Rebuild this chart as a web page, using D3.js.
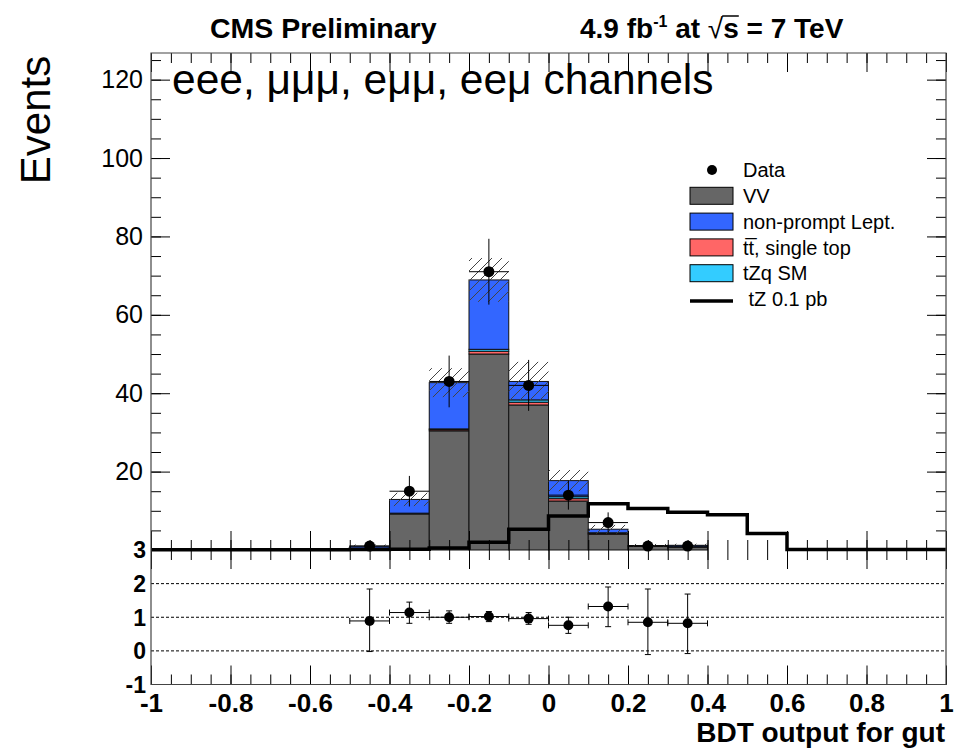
<!DOCTYPE html>
<html>
<head>
<meta charset="utf-8">
<script src="https://cdn.jsdelivr.net/npm/d3@7"></script>
<style>
  body { margin: 0; background: #fff; }
  text { font-family: "Liberation Sans", Arial, Helvetica, sans-serif; fill: #000; }
</style>
</head>
<body>
<svg id="chart" width="954" height="749"></svg>
<script>
/* CONSTANTS AND GLOBALS */
const width = 954,
  height = 749;

// panel edges in pixels
const plotLeft = 151, plotRight = 946;
const mainTop = 53, mainBottom = 550;
const ratioTop = 550, ratioBottom = 684.5;

/////////////
/// DATA ///
////////////

// bin centres of the BDT histogram (bin width 0.1)
const binCenters = [-0.95, -0.85, -0.75, -0.65, -0.55, -0.45, -0.35, -0.25, -0.15, -0.05,
                    0.05, 0.15, 0.25, 0.35, 0.45, 0.55, 0.65, 0.75, 0.85, 0.95];
const binHalf = 0.05;

// stacked backgrounds, bottom to top
const vv        = [0, 0, 0, 0, 0, 0.5, 9.2, 30.4, 50.0, 37.0, 12.5, 4.0, 1.0, 0.7, 0, 0, 0, 0, 0, 0];
const ttbar     = [0, 0, 0, 0, 0, 0.0, 0.1, 0.3, 0.7, 0.7, 0.6, 0.2, 0.05, 0.05, 0, 0, 0, 0, 0, 0];
const tzqSM     = [0, 0, 0, 0, 0, 0.0, 0.1, 0.2, 0.5, 0.6, 0.5, 0.2, 0.0, 0.05, 0, 0, 0, 0, 0, 0];
const nonPrompt = [0, 0, 0, 0, 0, 0.5, 3.5, 11.8, 17.7, 4.7, 4.1, 0.9, 0.1, 0.4, 0, 0, 0, 0, 0, 0];
// uncertainty on the total background (hatched band)
const mcErr     = [0, 0, 0, 0, 0, 0.4, 1.7, 3.7, 5.6, 5.0, 2.7, 1.1, 0.4, 0.4, 0, 0, 0, 0, 0, 0];

// tZ 0.1 pb signal (open black histogram)
const tzSignal  = [0.05, 0.05, 0.05, 0.05, 0.05, 0.1, 0.2, 0.5, 2.0, 5.3, 8.7, 11.8, 10.6, 9.6, 9.0, 4.2, 0.1, 0.1, 0.1, 0.1];

// observed data
const dataX   = [-0.45, -0.35, -0.25, -0.15, -0.05, 0.05, 0.15, 0.25, 0.35];
const dataY   = [1, 15, 43, 71, 42, 14, 7, 1, 1];
const dataErr = [1, 3.9, 6.6, 8.4, 6.5, 3.7, 2.6, 1, 1];

// data / MC ratio
const ratioY    = [0.89, 1.14, 1.0, 1.02, 0.96, 0.76, 1.32, 0.85, 0.82];
const ratioUp   = [1.84, 1.45, 1.19, 1.17, 1.14, 1.0, 1.9, 1.84, 1.69];
const ratioDown = [-0.02, 0.82, 0.82, 0.87, 0.79, 0.52, 0.72, -0.11, -0.08];

// ticks
const xTicks = [-1, -0.8, -0.6, -0.4, -0.2, 0, 0.2, 0.4, 0.6, 0.8, 1];
const xTickLabels = ["-1", "-0.8", "-0.6", "-0.4", "-0.2", "0", "0.2", "0.4", "0.6", "0.8", "1"];
const yTicks = [20, 40, 60, 80, 100, 120];
const ratioTicks = [3, 2, 1, 0, -1];
const ratioTickLabels = ["3", "2", "1", "0", "-1"];
const ratioLines = [0, 1, 2];

// legend
const legendLabels = ["Data", "VV", "non-prompt Lept.", "tt\u0305, single top", "tZq SM", " tZ 0.1 pb"];
const legendKinds  = ["point", "box", "box", "box", "box", "line"];
const legendColors = ["#000", "#666666", "#3366ff", "#ff6666", "#33ccff", "#000"];

const colors = { vv: "#666666", ttbar: "#ff6666", tzq: "#33ccff", np: "#3366ff" };

////////////////
/// SCALES ////
///////////////

const x = d3.scaleLinear().domain([-1, 1]).range([plotLeft, plotRight]);
const y = d3.scaleLinear().domain([0, 126.8]).range([mainBottom, mainTop]);
const yr = d3.scaleLinear().domain([-1, 3]).range([ratioBottom, ratioTop]);

const svg = d3.select("#chart");

// hatch pattern for the MC uncertainty
svg.append("defs").append("pattern")
  .attr("id", "hatch")
  .attr("patternUnits", "userSpaceOnUse")
  .attr("width", 10).attr("height", 10)
  .append("path")
  .attr("d", "M0,10 L10,0 M-2,2 L2,-2 M8,12 L12,8")
  .attr("stroke", "#444")
  .attr("stroke-width", 1);

//////////////////
/// MAIN STACK ///
//////////////////

// build the stack layers bin by bin
const layers = [
  { key: "vv", vals: vv, color: colors.vv },
  { key: "ttbar", vals: ttbar, color: colors.ttbar },
  { key: "tzq", vals: tzqSM, color: colors.tzq },
  { key: "np", vals: nonPrompt, color: colors.np }
];

const stackRects = [];
binCenters.forEach((c, i) => {
  let base = 0;
  layers.forEach(l => {
    const v = l.vals[i];
    if (v > 0) stackRects.push({ c: c, y0: base, y1: base + v, color: l.color });
    base += v;
  });
});

const totals = binCenters.map((c, i) => vv[i] + ttbar[i] + tzqSM[i] + nonPrompt[i]);

const gMain = svg.append("g");

gMain.selectAll("rect.stack")
  .data(stackRects)
  .enter()
  .append("rect")
  .attr("class", "stack")
  .attr("x", d => x(d.c - binHalf))
  .attr("width", d => x(d.c + binHalf) - x(d.c - binHalf))
  .attr("y", d => y(d.y1))
  .attr("height", d => y(d.y0) - y(d.y1))
  .attr("fill", d => d.color)
  .attr("stroke", "#111")
  .attr("stroke-width", 1);

// hatched uncertainty band
gMain.selectAll("rect.band")
  .data(binCenters.map((c, i) => ({ c: c, t: totals[i], e: mcErr[i] })).filter(d => d.e > 0))
  .enter()
  .append("rect")
  .attr("class", "band")
  .attr("x", d => x(d.c - binHalf))
  .attr("width", d => x(d.c + binHalf) - x(d.c - binHalf))
  .attr("y", d => y(d.t + d.e))
  .attr("height", d => y(Math.max(0, d.t - d.e)) - y(d.t + d.e))
  .attr("fill", "url(#hatch)");

// tZ signal step line
const stepPts = binCenters.map((c, i) => [c - binHalf, tzSignal[i]]);
stepPts.push([binCenters[binCenters.length - 1] + binHalf, tzSignal[tzSignal.length - 1]]);

gMain.append("path")
  .attr("d", d3.line().x(d => x(d[0])).y(d => y(d[1])).curve(d3.curveStepAfter)(stepPts))
  .attr("fill", "none")
  .attr("stroke", "#000")
  .attr("stroke-width", 3.5);

// data points
const dataPts = dataX.map((v, i) => ({ x: v, y: dataY[i], e: dataErr[i] }));

const gData = gMain.selectAll("g.data")
  .data(dataPts)
  .enter()
  .append("g")
  .attr("class", "data");

gData.append("line")
  .attr("x1", d => x(d.x)).attr("x2", d => x(d.x))
  .attr("y1", d => y(d.y + d.e)).attr("y2", d => y(Math.max(0, d.y - d.e)))
  .attr("stroke", "#000").attr("stroke-width", 1);
gData.append("line")
  .attr("x1", d => x(d.x - binHalf)).attr("x2", d => x(d.x + binHalf))
  .attr("y1", d => y(d.y)).attr("y2", d => y(d.y))
  .attr("stroke", "#000").attr("stroke-width", 1);
gData.append("circle")
  .attr("cx", d => x(d.x)).attr("cy", d => y(d.y))
  .attr("r", 5.5).attr("fill", "#000");

///////////////////
/// RATIO PANEL ///
///////////////////

const gRatio = svg.append("g");

gRatio.selectAll("line.ref")
  .data(ratioLines)
  .enter()
  .append("line")
  .attr("x1", plotLeft).attr("x2", plotRight)
  .attr("y1", d => yr(d)).attr("y2", d => yr(d))
  .attr("stroke", "#000").attr("stroke-width", 1)
  .attr("stroke-dasharray", "3,2");

const ratioPts = dataX.map((v, i) => ({ x: v, y: ratioY[i], up: ratioUp[i], dn: ratioDown[i] }));
const gR = gRatio.selectAll("g.rpt")
  .data(ratioPts)
  .enter()
  .append("g")
  .attr("class", "rpt");

const cap = 3;
gR.append("line")
  .attr("x1", d => x(d.x)).attr("x2", d => x(d.x))
  .attr("y1", d => yr(d.up)).attr("y2", d => yr(d.dn))
  .attr("stroke", "#000").attr("stroke-width", 1);
gR.append("line")
  .attr("x1", d => x(d.x - binHalf)).attr("x2", d => x(d.x + binHalf))
  .attr("y1", d => yr(d.y)).attr("y2", d => yr(d.y))
  .attr("stroke", "#000").attr("stroke-width", 1);
// error bar end caps
gR.append("path")
  .attr("d", d => {
    const cx = x(d.x), cy = yr(d.y);
    const xl = x(d.x - binHalf), xh = x(d.x + binHalf);
    return `M${cx - cap},${yr(d.up)}H${cx + cap}M${cx - cap},${yr(d.dn)}H${cx + cap}` +
           `M${xl},${cy - cap}V${cy + cap}M${xh},${cy - cap}V${cy + cap}`;
  })
  .attr("stroke", "#000").attr("stroke-width", 1).attr("fill", "none");
gR.append("circle")
  .attr("cx", d => x(d.x)).attr("cy", d => yr(d.y))
  .attr("r", 5).attr("fill", "#000");

//////////////
/// AXES ////
/////////////

function tickAxis(axis, tx, ty) {
  const g = svg.append("g").attr("transform", `translate(${tx},${ty})`).call(axis);
  g.select(".domain").remove();
  g.selectAll("line").attr("stroke", "#000");
  return g;
}

// main x ticks: bottom (pointing up) and top (pointing down)
tickAxis(d3.axisTop(x).tickValues(xTicks).tickSize(19).tickFormat(""), 0, mainBottom);
tickAxis(d3.axisTop(x).ticks(40).tickSize(10).tickFormat(""), 0, mainBottom);
tickAxis(d3.axisBottom(x).tickValues(xTicks).tickSize(19).tickFormat(""), 0, mainTop);
tickAxis(d3.axisBottom(x).ticks(40).tickSize(10).tickFormat(""), 0, mainTop);

// main y ticks left (with labels) and right
const yAxisG = tickAxis(d3.axisLeft(y).tickValues(yTicks).tickSizeInner(-19).tickSizeOuter(0).tickPadding(8), plotLeft, 0);
yAxisG.selectAll("text").attr("font-size", 25).attr("font-family", "Liberation Sans, Arial, sans-serif");
tickAxis(d3.axisLeft(y).ticks(25).tickSizeInner(-10).tickSizeOuter(0).tickFormat(""), plotLeft, 0);
tickAxis(d3.axisLeft(y).tickValues(yTicks).tickSize(19).tickFormat(""), plotRight, 0);
tickAxis(d3.axisLeft(y).ticks(25).tickSize(10).tickFormat(""), plotRight, 0);

// ratio x ticks: top (down) and bottom (up, with labels)
tickAxis(d3.axisBottom(x).tickValues(xTicks).tickSize(19).tickFormat(""), 0, ratioTop);
tickAxis(d3.axisBottom(x).ticks(40).tickSize(10).tickFormat(""), 0, ratioTop);
const xAxisG = tickAxis(d3.axisBottom(x).tickValues(xTicks).tickSizeInner(-19).tickSizeOuter(0)
  .tickPadding(9).tickFormat((d, i) => xTickLabels[i]), 0, ratioBottom);
xAxisG.selectAll("text").attr("font-size", 26).attr("font-weight", "bold")
  .attr("font-family", "Liberation Sans, Arial, sans-serif");
tickAxis(d3.axisBottom(x).ticks(40).tickSizeInner(-10).tickSizeOuter(0).tickFormat(""), 0, ratioBottom);

// ratio y labels
svg.append("g").selectAll("text")
  .data(ratioTicks)
  .enter()
  .append("text")
  .attr("x", 146)
  .attr("y", d => yr(d))
  .attr("dy", "0.36em")
  .attr("text-anchor", "end")
  .attr("font-size", 23)
  .attr("font-weight", "bold")
  .text((d, i) => ratioTickLabels[i]);

// frames
svg.append("path")
  .attr("d", `M${plotLeft},${mainBottom}V${mainTop}H${plotRight}V${mainBottom}`)
  .attr("fill", "none").attr("stroke", "#444").attr("stroke-width", 1.2);
svg.append("path")
  .attr("d", `M${plotLeft},${ratioTop}V${ratioBottom}H${plotRight}V${ratioTop}`)
  .attr("fill", "none").attr("stroke", "#444").attr("stroke-width", 1.2);

//////////////
/// TEXTS ///
/////////////

svg.append("text")
  .attr("transform", "translate(50,120) rotate(-90)")
  .attr("text-anchor", "middle")
  .attr("font-size", 42)
  .text("Events");

svg.append("text")
  .attr("x", 945).attr("y", 742)
  .attr("text-anchor", "end")
  .attr("font-size", 28).attr("font-weight", "bold")
  .text("BDT output for gut");

svg.append("text")
  .attr("x", 172).attr("y", 94)
  .attr("font-size", 42.5)
  .text("eee, \u03bc\u03bc\u03bc, e\u03bc\u03bc, ee\u03bc channels");

svg.append("text")
  .attr("x", 210).attr("y", 38)
  .attr("font-size", 28.5).attr("font-weight", "bold")
  .text("CMS Preliminary");

const lumi = svg.append("text")
  .attr("x", 580).attr("y", 38)
  .attr("font-size", 28).attr("font-weight", "bold");
lumi.append("tspan").text("4.9 fb");
lumi.append("tspan").attr("dy", -11).attr("font-size", 16).text("-1");
lumi.append("tspan").attr("dy", 11).text(" at ");
lumi.append("tspan").attr("font-weight", "normal").text("\u221a");
lumi.append("tspan").text("s");
lumi.append("tspan").text(" = 7 TeV");

// overline for the square root
const rootBox = lumi.node().getExtentOfChar(12);
const sBox = lumi.node().getExtentOfChar(13);
svg.append("line")
  .attr("x1", rootBox.x + rootBox.width - 1).attr("x2", sBox.x + sBox.width)
  .attr("y1", rootBox.y + 3).attr("y2", rootBox.y + 3)
  .attr("stroke", "#000").attr("stroke-width", 1.5);

////////////////
/// LEGEND ////
///////////////

const legendRows = legendLabels.map((t, i) => ({ t: t, kind: legendKinds[i], color: legendColors[i], i: i }));
const legG = svg.append("g").selectAll("g")
  .data(legendRows)
  .enter()
  .append("g")
  .attr("transform", d => `translate(690,${170 + d.i * 25.8})`);

legG.filter(d => d.kind === "box").append("rect")
  .attr("x", 0).attr("y", -8.5).attr("width", 43).attr("height", 17)
  .attr("fill", d => d.color).attr("stroke", "#000").attr("stroke-width", 1);
legG.filter(d => d.kind === "point").append("circle")
  .attr("cx", 22).attr("cy", 0).attr("r", 5).attr("fill", "#000");
legG.filter(d => d.kind === "line").append("line")
  .attr("x1", 0).attr("x2", 43).attr("y1", 2).attr("y2", 2)
  .attr("stroke", "#000").attr("stroke-width", 3.5);
legG.append("text")
  .attr("x", 53).attr("y", 0).attr("dy", "0.36em")
  .attr("font-size", 20)
  .attr("xml:space", "preserve")
  .text(d => d.t);
</script>
</body>
</html>
